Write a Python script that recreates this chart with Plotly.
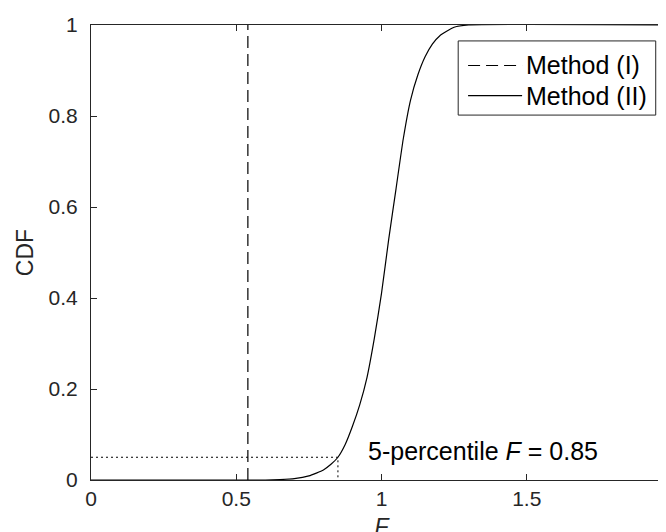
import plotly.graph_objects as go

f_vals = [0, 0.6, 0.65, 0.7, 0.75, 0.8, 0.825, 0.85, 0.875, 0.9, 0.925, 0.95, 0.975,
          1.0, 1.025, 1.05, 1.075, 1.1, 1.125, 1.15, 1.175, 1.2, 1.25, 1.3, 2.0]
cdf_vals = [0, 0, 0.001, 0.003, 0.009, 0.022, 0.034, 0.05, 0.078, 0.118, 0.165, 0.225, 0.31,
            0.41, 0.53, 0.64, 0.75, 0.835, 0.89, 0.93, 0.958, 0.976, 0.995, 1, 1]

# Method (I): single value
f_method1 = 0.54

# 5-percentile marker
p_level = 0.05
f_p5 = 0.85

legend_names = ["Method (I)", "Method (II)"]
legend_dash = ["12px,6px", "solid"]

font = "Arial, Liberation Sans, sans-serif"
axis_color = "#262626"
lw = 1.2

fig = go.Figure()

fig.add_trace(go.Scatter(
    x=[f_method1, f_method1], y=[0, 1], mode="lines", name=legend_names[0],
    showlegend=False, line=dict(color="black", width=lw, dash=legend_dash[0]),
))
fig.add_trace(go.Scatter(
    x=f_vals, y=cdf_vals, mode="lines", name=legend_names[1], showlegend=False,
    line=dict(color="black", width=lw, shape="spline", smoothing=0.5),
))
# dotted guide lines for the percentile
fig.add_trace(go.Scatter(
    x=[0, f_p5, f_p5], y=[p_level, p_level, 0], mode="lines", showlegend=False,
    line=dict(color="black", width=1, dash="2px,3px"),
))

fig.add_annotation(
    x=0.947, y=0.064, xref="x", yref="y", xanchor="left", yanchor="middle",
    text="5-percentile <i>F</i> = %.2f" % f_p5, showarrow=False,
    font=dict(family=font, size=25, color="black"),
)

# legend box drawn by hand, MATLAB style (long line samples)
box_x0, box_x1 = 0.632, 0.972
box_y0, box_y1 = 0.802, 0.965
fig.add_shape(type="rect", xref="paper", yref="paper",
              x0=box_x0, x1=box_x1, y0=box_y0, y1=box_y1,
              line=dict(color=axis_color, width=1), fillcolor="white", layer="above")
row_y = [0.911, 0.845]
for name, dash, ry in zip(legend_names, legend_dash, row_y):
    fig.add_shape(type="line", xref="paper", yref="paper",
                  x0=0.649, x1=0.742, y0=ry, y1=ry,
                  line=dict(color="black", width=lw, dash=dash), layer="above")
    fig.add_annotation(x=0.745, y=ry, xref="paper", yref="paper",
                       xanchor="left", yanchor="middle", text=name, showarrow=False,
                       font=dict(family=font, size=25, color="black"))

axis_style = dict(
    showline=True, linecolor=axis_color, linewidth=1, mirror="ticks",
    ticks="inside", ticklen=6, tickcolor=axis_color, showgrid=False,
    zeroline=False, automargin=False,
    tickfont=dict(family=font, size=21, color=axis_color),
)

fig.update_xaxes(range=[0, 2], tickvals=[0, 0.5, 1, 1.5, 2], ticktext=["0", "0.5", "1", "1.5", "2"],
                 ticklabelstandoff=0, ticklabeloverflow="allow",
                 title=dict(text="<i>F</i>", font=dict(family=font, size=23, color=axis_color), standoff=10),
                 **axis_style)
fig.update_yaxes(range=[0, 1], tickvals=[0, 0.2, 0.4, 0.6, 0.8, 1],
                 ticktext=["0", "0.2", "0.4", "0.6", "0.8", "1"], ticklabelstandoff=8,
                 title=dict(text="CDF", font=dict(family=font, size=23, color=axis_color), standoff=8),
                 **axis_style)

fig.update_layout(
    width=666, height=532,
    margin=dict(l=83, r=2, t=17, b=60),
    plot_bgcolor="white", paper_bgcolor="white",
    showlegend=False,
)

fig.write_html("out.html")
